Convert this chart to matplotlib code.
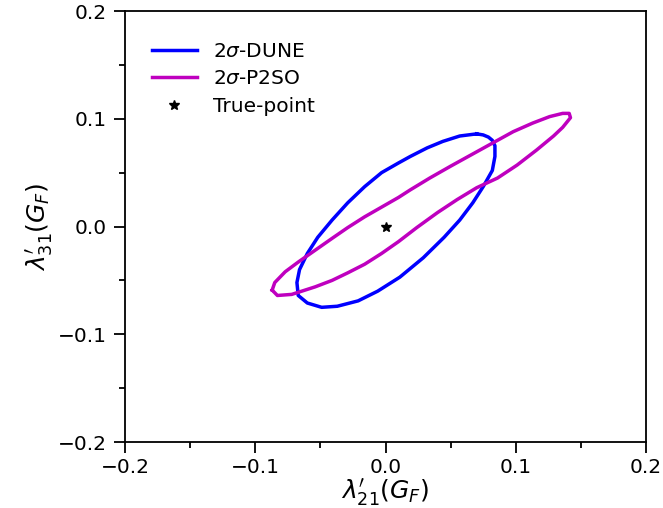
import numpy as np
import matplotlib
matplotlib.use("Agg")
import matplotlib.pyplot as plt
from matplotlib.ticker import MultipleLocator

# 2 sigma contour, DUNE (lambda'_21, lambda'_31)
dune_x = [0.070, 0.075, 0.079, 0.082, 0.084, 0.084, 0.082, 0.075, 0.067, 0.057,
          0.045, 0.029, 0.011, -0.006, -0.021, -0.037, -0.049, -0.060, -0.067,
          -0.068, -0.066, -0.060, -0.052, -0.041, -0.029, -0.016, -0.003, 0.010,
          0.019, 0.032, 0.044, 0.057, 0.070]
dune_y = [0.086, 0.085, 0.083, 0.080, 0.075, 0.065, 0.052, 0.037, 0.022, 0.006,
          -0.010, -0.029, -0.047, -0.060, -0.069, -0.074, -0.075, -0.071, -0.064,
          -0.052, -0.040, -0.025, -0.010, 0.006, 0.022, 0.037, 0.050, 0.059,
          0.065, 0.073, 0.079, 0.084, 0.086]

# 2 sigma contour, P2SO
p2so_x = [-0.087, -0.085, -0.077, -0.067, -0.054, -0.041, -0.029, -0.016, -0.003,
          0.010, 0.019, 0.034, 0.050, 0.065, 0.083, 0.098, 0.113, 0.126, 0.136,
          0.141, 0.142, 0.136, 0.129, 0.116, 0.101, 0.086, 0.070, 0.055, 0.040,
          0.024, 0.010, -0.003, -0.016, -0.029, -0.041, -0.054, -0.072, -0.083,
          -0.087]
p2so_y = [-0.059, -0.052, -0.042, -0.033, -0.022, -0.011, -0.001, 0.009, 0.018,
          0.027, 0.034, 0.045, 0.056, 0.066, 0.078, 0.088, 0.096, 0.102, 0.105,
          0.105, 0.101, 0.092, 0.084, 0.071, 0.057, 0.045, 0.036, 0.025, 0.013,
          -0.001, -0.014, -0.025, -0.035, -0.043, -0.050, -0.056, -0.063, -0.064,
          -0.059]

true_x = [0.0]
true_y = [0.0]

fig = plt.figure(figsize=(6.63, 5.08), dpi=100)
ax = fig.add_axes([0.1885, 0.1299, 0.7859, 0.8484])

ax.plot(dune_x, dune_y, color='b', lw=2.5, solid_joinstyle='round', label=r'2$\sigma$-DUNE')
ax.plot(p2so_x, p2so_y, color='m', lw=2.5, solid_joinstyle='round', label=r'2$\sigma$-P2SO')
ax.plot(true_x, true_y, '*', color='k', ms=7, label='True-point')

ax.set_xlim(-0.2, 0.2)
ax.set_ylim(-0.2, 0.2)
ax.xaxis.set_major_locator(MultipleLocator(0.1))
ax.yaxis.set_major_locator(MultipleLocator(0.1))
ax.xaxis.set_minor_locator(MultipleLocator(0.05))
ax.yaxis.set_minor_locator(MultipleLocator(0.05))
ax.tick_params(which='major', direction='out', length=8, width=1.3, labelsize=14.5, pad=5)
ax.tick_params(axis='x', which='major', pad=3.5)
ax.tick_params(which='minor', direction='out', length=4, width=1.3)
for s in ax.spines.values():
    s.set_linewidth(1.3)

ax.set_xlabel(r"$\lambda^{\prime}_{21}(G_F)$", fontsize=18, labelpad=0)
ax.set_ylabel(r"$\lambda^{\prime}_{31}(G_F)$", fontsize=18, labelpad=2)

ax.legend(loc='upper left', frameon=False, fontsize=14.5, handlelength=2.2,
          borderaxespad=0.8, labelspacing=0.42, bbox_to_anchor=(0.006, 0.985))

fig.savefig('out.png', dpi=100)
